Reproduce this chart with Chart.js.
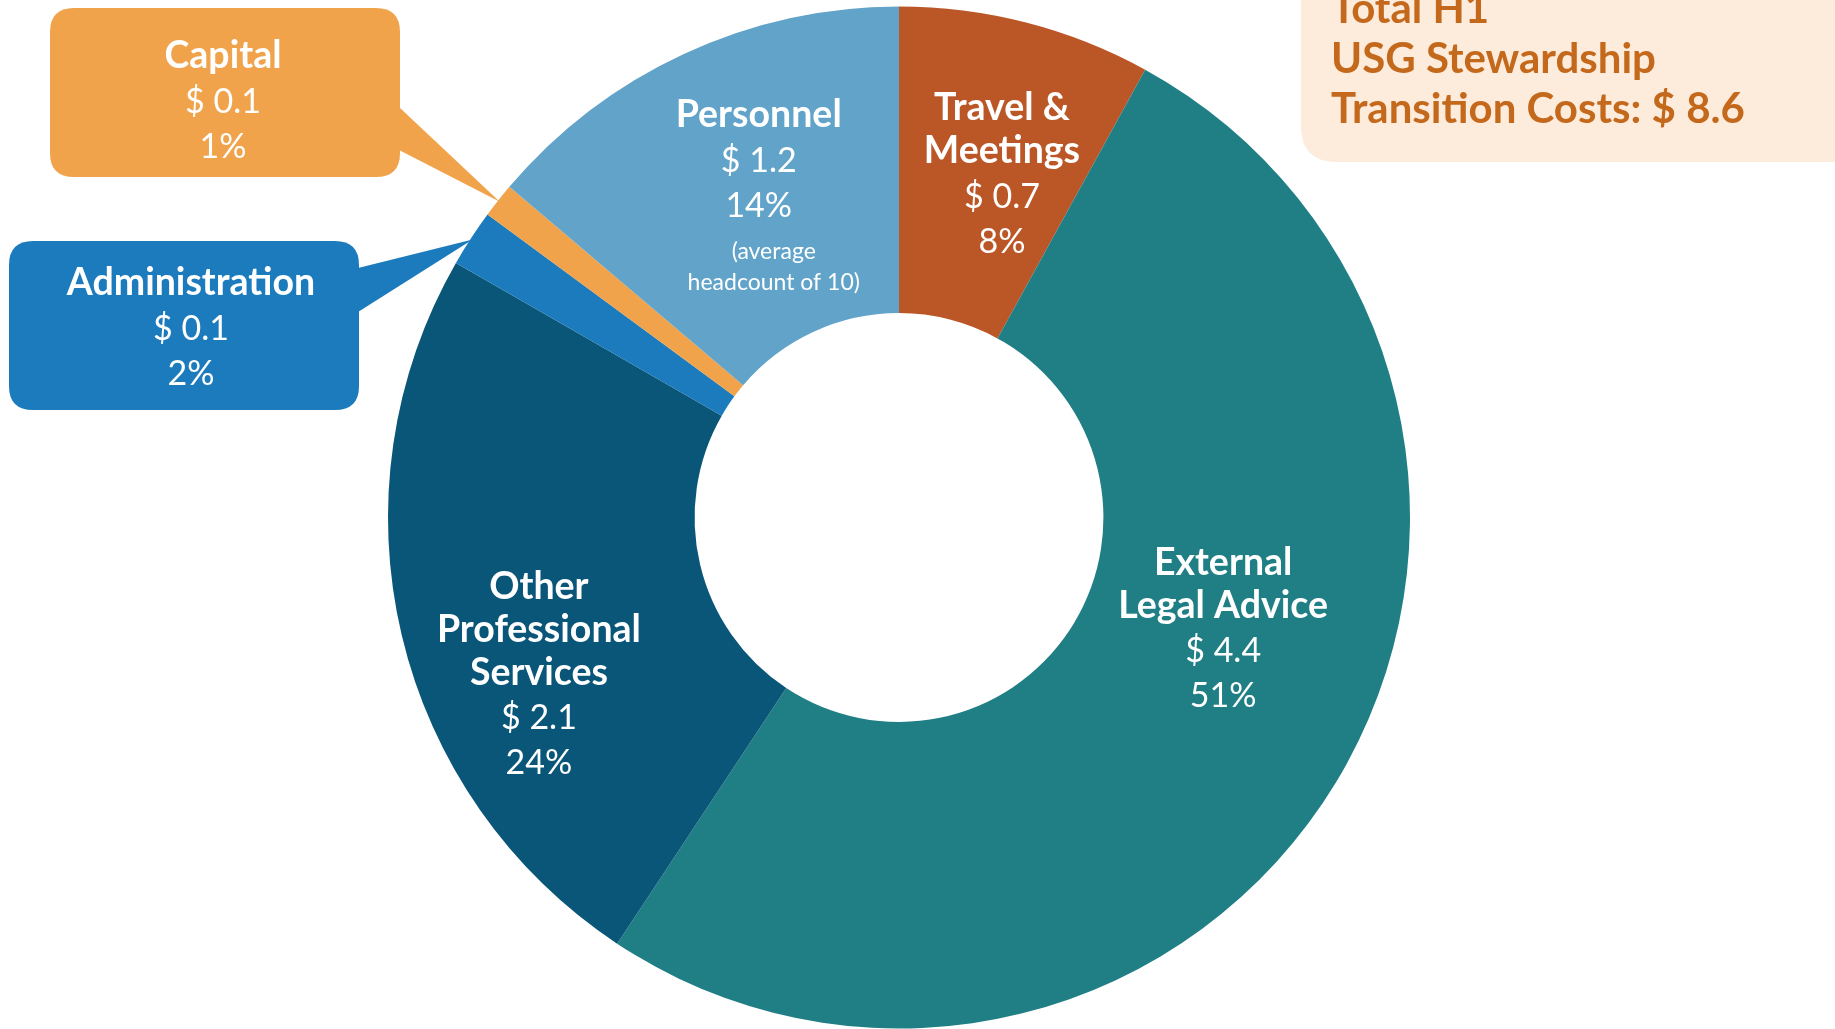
<!DOCTYPE html>
<html>
<head>
<meta charset="utf-8">
<script src="https://cdn.jsdelivr.net/npm/chart.js@4.4.1/dist/chart.umd.min.js"></script>
<style>
  html, body { margin: 0; padding: 0; background: #fff; overflow: hidden; }
  #wrap { width: 1835px; height: 1029px; position: relative; }
</style>
</head>
<body>
<div id="wrap"><canvas id="chart"></canvas></div>
<script>
// data (clockwise from 12 o'clock)
const categories = ['Travel & Meetings', 'External Legal Advice', 'Other Professional Services', 'Administration', 'Capital', 'Personnel'];
const titleLines = [['Travel &', 'Meetings'], ['External', 'Legal Advice'], ['Other', 'Professional', 'Services'], ['Administration'], ['Capital'], ['Personnel']];
// slice shares estimated from the angles; labels show them rounded
const shares = [8.0, 51.3, 24.0, 1.8, 1.1, 13.8];
const dollars = ['0.7', '4.4', '2.1', '0.1', '0.1', '1.2'];
const notes = [[], [], [], [], [], ['(average', 'headcount of 10)']];
const totalLines = ['Total H1', 'USG Stewardship', 'Transition Costs: $ 8.6'];

const colors = ['#bb5727', '#1f7f85', '#0a5679', '#1c7bbd', '#f0a34b', '#62a3c9'];
const FONT = 'Lato, "Open Sans", sans-serif';

// nudges of the text block from the slice centroid
const nudge = { 0: [14, 4], 1: [18, -73], 2: [-12, 75], 5: [10, 6] };
// callout boxes for the thin slices: [x, y, w, h, baseTop, baseBottom, textDx, textDy]
const callouts = {
  4: [50, 8, 350, 169, 107, 150, -2, 9],
  3: [9, 241, 350, 169, 268, 312, 7, 3]
};

function roundRect(ctx, x, y, w, h, r) {
  ctx.beginPath();
  ctx.moveTo(x + r, y);
  ctx.lineTo(x + w - r, y);
  ctx.quadraticCurveTo(x + w, y, x + w, y + r);
  ctx.lineTo(x + w, y + h - r);
  ctx.quadraticCurveTo(x + w, y + h, x + w - r, y + h);
  ctx.lineTo(x + r, y + h);
  ctx.quadraticCurveTo(x, y + h, x, y + h - r);
  ctx.lineTo(x, y + r);
  ctx.quadraticCurveTo(x, y, x + r, y);
  ctx.closePath();
}

// draws bold title lines + "$ x" + "p%" (+ notes) centred on cx, cy
function textBlock(ctx, i, cx, cy) {
  const rows = [];
  titleLines[i].forEach(t => rows.push({ t: t, f: '700 37.5px ' + FONT, h: 43 }));
  rows.push({ t: '$ ' + dollars[i], f: '400 34px ' + FONT, h: 46 });
  rows.push({ t: Math.round(shares[i]) + '%', f: '400 34px ' + FONT, h: 45 });
  notes[i].forEach((t, k) => rows.push({ t: t, f: '400 23px ' + FONT, h: k == 0 ? 46 : 31, dx: 15 }));
  let total = 0;
  rows.forEach((r, k) => { if (k > 0) total += r.h; });
  let y = cy - total / 2;
  ctx.fillStyle = '#ffffff';
  ctx.textAlign = 'center';
  ctx.textBaseline = 'middle';
  rows.forEach((r, k) => {
    if (k > 0) y += r.h;
    ctx.font = r.f;
    ctx.fillText(r.t, cx + (r.dx || 0), y);
  });
}

const labelPlugin = {
  id: 'labelPlugin',
  afterDatasetsDraw(chart) {
    const ctx = chart.ctx;
    const arcs = chart.getDatasetMeta(0).data;
    ctx.save();
    arcs.forEach((arc, i) => {
      if (callouts[i]) {
        const c = callouts[i];
        const p = arc.getProps(['x', 'y', 'startAngle', 'endAngle', 'outerRadius']);
        const mid = (p.startAngle + p.endAngle) / 2;
        const tx = p.x + Math.cos(mid) * (p.outerRadius - 2);
        const ty = p.y + Math.sin(mid) * (p.outerRadius - 2);
        ctx.fillStyle = colors[i];
        roundRect(ctx, c[0], c[1], c[2], c[3], 24);
        ctx.fill();
        ctx.beginPath();
        ctx.moveTo(c[0] + c[2] - 1, c[4]);
        ctx.lineTo(tx, ty);
        ctx.lineTo(c[0] + c[2] - 1, c[5]);
        ctx.closePath();
        ctx.fill();
        textBlock(ctx, i, c[0] + c[2] / 2 + c[6], c[1] + c[3] / 2 + c[7]);
      } else {
        const pos = arc.tooltipPosition();
        const n = nudge[i] || [0, 0];
        textBlock(ctx, i, pos.x + n[0], pos.y + n[1]);
      }
    });

    // total box, top right
    ctx.fillStyle = '#fdebdc';
    roundRect(ctx, 1301, -60, 580, 222, 36);
    ctx.fill();
    ctx.fillStyle = '#c4691c';
    ctx.font = '700 42px ' + FONT;
    ctx.textAlign = 'left';
    ctx.textBaseline = 'alphabetic';
    totalLines.forEach((t, k) => ctx.fillText(t, 1331, 23 + k * 50));
    ctx.restore();
  }
};

const data = {
  labels: categories,
  datasets: [{
    data: shares,
    backgroundColor: colors,
    borderWidth: 0
  }]
};

const config = {
  type: 'doughnut',
  data: data,
  options: {
    responsive: true,
    maintainAspectRatio: false,
    animation: false,
    cutout: '40%',
    layout: { padding: { left: 388, right: 425, top: 6, bottom: 0 } },
    plugins: {
      legend: { display: false },
      tooltip: { enabled: false }
    }
  },
  plugins: [labelPlugin]
};

let myChart = new Chart(document.getElementById('chart'), config);
</script>
</body>
</html>
